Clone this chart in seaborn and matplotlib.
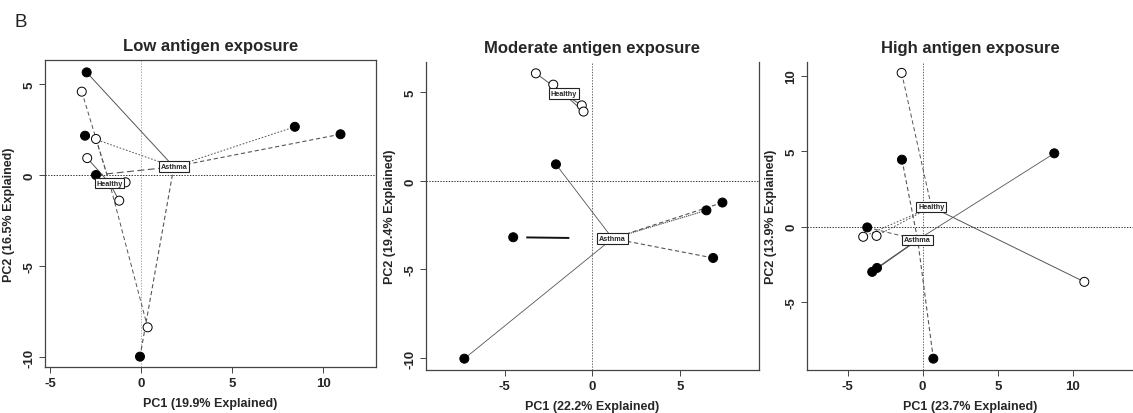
import numpy as np
import pandas as pd
import matplotlib
matplotlib.use("Agg")
import matplotlib.pyplot as plt
import seaborn as sns

# ---------------- data ----------------
titles = ["Low antigen exposure", "Moderate antigen exposure", "High antigen exposure"]
xlabels = ["PC1 (19.9% Explained)", "PC1 (22.2% Explained)", "PC1 (23.7% Explained)"]
ylabels = ["PC2 (16.5% Explained)", "PC2 (19.4% Explained)", "PC2 (13.9% Explained)"]

low_asthma_x = [-3.00, -3.09, -2.49, 8.44, 10.95, -0.07]
low_asthma_y = [5.64, 2.16, 0.00, 2.65, 2.24, -9.98]
low_healthy_x = [-3.27, -2.49, -2.97, -0.86, -1.21, 0.35]
low_healthy_y = [4.58, 1.98, 0.93, -0.40, -1.41, -8.37]

mod_asthma_x = [-2.08, -4.51, -7.29, 6.48, 7.39, 6.86]
mod_asthma_y = [0.94, -3.18, -10.04, -1.66, -1.22, -4.35]
mod_healthy_x = [-3.22, -2.23, -0.61, -0.51]
mod_healthy_y = [6.08, 5.44, 4.27, 3.92]

high_asthma_x = [-1.38, 8.76, -3.69, -3.36, -3.04, 0.71]
high_asthma_y = [4.44, 4.86, -0.04, -2.98, -2.72, -8.72]
high_healthy_x = [-1.40, -3.96, -3.07, 10.76]
high_healthy_y = [10.18, -0.66, -0.60, -3.64]

groups = ["Asthma", "Healthy"]
xticks = [[-5, 0, 5, 10], [-5, 0, 5], [-5, 0, 5, 10]]
yticks = [[-10, -5, 0, 5], [-10, -5, 0, 5], [-5, 0, 5, 10]]

panels = [
    (low_asthma_x, low_asthma_y, low_healthy_x, low_healthy_y),
    (mod_asthma_x, mod_asthma_y, mod_healthy_x, mod_healthy_y),
    (high_asthma_x, high_asthma_y, high_healthy_x, high_healthy_y),
]

# ---------------- styling ----------------
sns.set_theme(style="ticks")
plt.rcParams["font.family"] = ["Liberation Sans", "DejaVu Sans"]
plt.rcParams["lines.scale_dashes"] = False
plt.rcParams["axes.unicode_minus"] = False

positions = [
    [45 / 1133, 46 / 414, 331 / 1133, 307 / 414],
    [426 / 1133, 43 / 414, 333 / 1133, 308 / 414],
    [807 / 1133, 43 / 414, 326 / 1133, 308 / 414],
]
xlims = [(-5.29, 12.9), (-9.47, 9.47), (-7.7, 14.0)]
ylims = [(-10.55, 6.32), (-10.68, 6.72), (-9.47, 10.9)]

dot = (0, (1.2, 1.2))
dash = (0, (3, 2))
ldash = (0, (5, 2.5))
solid = "-"
asthma_styles = [
    [solid, dot, ldash, dot, dash, dash],
    [solid, (71.6, (31, 50)), solid, (0, (1, 0.6)), dash, dash],
    [dash, solid, dash, solid, solid, dash],
]
asthma_lw = [
    [0.7, 0.7, 0.8, 0.7, 0.8, 0.8],
    [0.6, 1.4, 0.6, 0.8, 0.8, 0.8],
    [0.8, 0.6, 0.7, 0.8, 0.8, 0.8],
]
healthy_styles = [
    [dash, dash, solid, solid, solid, dash],
    [solid, solid, solid, solid],
    [dash, dot, dot, solid],
]
line_color = "#555555"

fig = plt.figure(figsize=(11.33, 4.14), dpi=100)
fig.text(15 / 1133, 1 - 27 / 414, "B", fontsize=13.5, ha="left", va="baseline", color="#222222")

for i, (ax_, ay_, hx_, hy_) in enumerate(panels):
    ax = fig.add_axes(positions[i])
    ax.set_xlim(*xlims[i])
    ax.set_ylim(*ylims[i])

    # reference lines
    ax.axvline(0, color="#aaaaaa" if i == 0 else "#666666", lw=0.7, ls=(0, (1, 1)), zorder=1)
    ax.axhline(0, color="#333333", lw=0.7, ls=(0, (1, 1)), zorder=1)

    ax_a = np.array(ax_); ay_a = np.array(ay_)
    hx_a = np.array(hx_); hy_a = np.array(hy_)
    ca = (ax_a.mean(), ay_a.mean())
    ch = (hx_a.mean(), hy_a.mean())

    # spider lines
    for k in range(len(ax_a)):
        ax.plot([ax_a[k], ca[0]], [ay_a[k], ca[1]], color="#111111" if asthma_lw[i][k] > 1 else line_color,
                lw=asthma_lw[i][k], ls=asthma_styles[i][k], zorder=2)
    for k in range(len(hx_a)):
        ax.plot([hx_a[k], ch[0]], [hy_a[k], ch[1]], color=line_color, lw=0.7,
                ls=healthy_styles[i][k], zorder=2)

    df = pd.DataFrame({
        "x": np.concatenate([ax_a, hx_a]),
        "y": np.concatenate([ay_a, hy_a]),
        "group": [groups[0]] * len(ax_a) + [groups[1]] * len(hx_a),
    })
    sns.scatterplot(data=df, x="x", y="y", hue="group", palette={"Asthma": "black", "Healthy": "white"},
                    edgecolor="black", linewidth=0.7, s=42, legend=False, ax=ax, zorder=3)

    box = dict(boxstyle="square,pad=0.25", facecolor="white", edgecolor="#222222", linewidth=0.8)
    ax.text(ca[0], ca[1], groups[0], fontsize=5.2, fontweight="bold", ha="center", va="center",
            bbox=box, zorder=4)
    ax.text(ch[0], ch[1], groups[1], fontsize=5.2, fontweight="bold", ha="center", va="center",
            bbox=box, zorder=4)

    ax.set_xticks(xticks[i])
    ax.set_yticks(yticks[i])
    ax.tick_params(axis="both", labelsize=9.5, length=4, width=0.7, color="#444444", pad=3)
    for lab in ax.get_xticklabels() + ax.get_yticklabels():
        lab.set_fontweight("bold")
    for lab in ax.get_yticklabels():
        lab.set_rotation(90)
        lab.set_va("center")
    ax.set_xlabel(xlabels[i], fontsize=9, fontweight="bold", labelpad=6)
    ax.set_ylabel(ylabels[i], fontsize=9, fontweight="bold", labelpad=6)
    ax.set_title(titles[i], fontsize=12, fontweight="bold", pad=7)

    for s in ax.spines.values():
        s.set_color("#444444")
        s.set_linewidth(0.9)
    if i == 1:
        ax.spines["top"].set_visible(False)
    if i == 2:
        ax.spines["top"].set_visible(False)
        ax.spines["right"].set_visible(False)

fig.savefig("out.png", dpi=100)
